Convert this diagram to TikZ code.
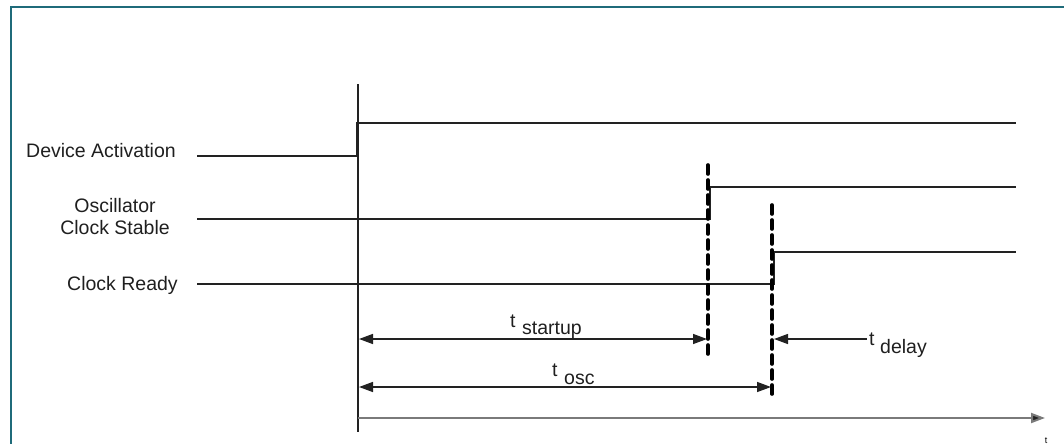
\documentclass[tikz,border=0pt]{standalone}
\usepackage{fontspec}
\setmainfont{Liberation Sans}
\usetikzlibrary{arrows.meta}
\definecolor{frameteal}{HTML}{1F6B7A}
\definecolor{sig}{HTML}{222222}
\definecolor{axisgray}{HTML}{7A7A7A}
\tikzset{
  lbl/.style={font=\fontsize{19.5}{22}\selectfont, inner sep=0pt, text=black!88},
  sigline/.style={draw=sig, line width=1.6pt},
  markline/.style={draw=black, line width=3.6pt, dash pattern=on 9pt off 6pt, line cap=round},
  dimarrow/.style={draw=sig, line width=1.4pt, {Triangle[length=14pt,width=10pt]}-{Triangle[length=14pt,width=10pt]}},
  onearrow/.style={draw=sig, line width=1.4pt, -{Triangle[length=14pt,width=10pt]}},
}
\begin{document}
\begin{tikzpicture}[x=1pt,y=-1pt]
\useasboundingbox (0,0) rectangle (1064,444);
% frame
\coordinate (ftr) at (1064,7);
\coordinate (ftl) at (11,7);
\coordinate (fbl) at (11,444);
\draw[frameteal, line width=2pt] (ftr) -- (ftl) -- (fbl);

% labels
\node[lbl, anchor=base west] (lda) at (26,157) {Device Activation};
\node[lbl, anchor=base] (losc1) at (115,212) {Oscillator};
\node[lbl, anchor=base] (losc2) at (115,234) {Clock Stable};
\node[lbl, anchor=base west] (lcr) at (67,290) {Clock Ready};

% vertical reference line
\coordinate (vtop) at (358,84);
\coordinate (vbot) at (358,432);
\draw[sigline, line width=1.4pt] (vtop) -- (vbot);

% Device Activation waveform
\coordinate (da0) at (197,156);
\coordinate (da1) at (357,156);
\coordinate (da2) at (357,123);
\coordinate (da3) at (1016,123);
\draw[sigline] (da0) -- (da1) -- (da2) -- (da3);

% Oscillator clock stable waveform
\coordinate (os0) at (197,219);
\coordinate (os1) at (710,219);
\coordinate (os2) at (710,187);
\coordinate (os3) at (1016,187);
\draw[sigline] (os0) -- (os1) -- (os2) -- (os3);

% Clock ready waveform
\coordinate (cr0) at (197,284);
\coordinate (cr1) at (774,284);
\coordinate (cr2) at (774,252);
\coordinate (cr3) at (1016,252);
\draw[sigline] (cr0) -- (cr1) -- (cr2) -- (cr3);

% dashed markers
\coordinate (m1t) at (708,165);
\coordinate (m1b) at (708,356);
\coordinate (m2t) at (772,205);
\coordinate (m2b) at (772,396);
\draw[markline] (m1t) -- (m1b);
\draw[markline] (m2t) -- (m2b);

% t startup
\coordinate (su0) at (359,339);
\coordinate (su1) at (707,339);
\draw[dimarrow] (su0) -- (su1);
\node[lbl, anchor=base west] (tsu) at (510,327) {t};
\node[lbl, anchor=base west] (tsus) at (522,334) {startup};

% t osc
\coordinate (to0) at (359,387);
\coordinate (to1) at (771,387);
\draw[dimarrow] (to0) -- (to1);
\node[lbl, anchor=base west] (tos) at (552,376) {t};
\node[lbl, anchor=base west] (toss) at (564,384) {osc};

% t delay
\coordinate (td0) at (867,339);
\coordinate (td1) at (774,339);
\draw[onearrow] (td0) -- (td1);
\node[lbl, anchor=base west] (tde) at (869,345) {t};
\node[lbl, anchor=base west] (tdes) at (880,353) {delay};

% time axis
\coordinate (ta0) at (358,418);
\coordinate (ta1) at (1045,418);
\draw[draw=axisgray, line width=2pt, -{Triangle[length=14pt,width=10pt,fill=sig]}] (ta0) -- (ta1);
\node[font=\fontsize{9}{10}\selectfont, inner sep=0pt, anchor=base] (tt) at (1046,443) {t};
\end{tikzpicture}
\end{document}
